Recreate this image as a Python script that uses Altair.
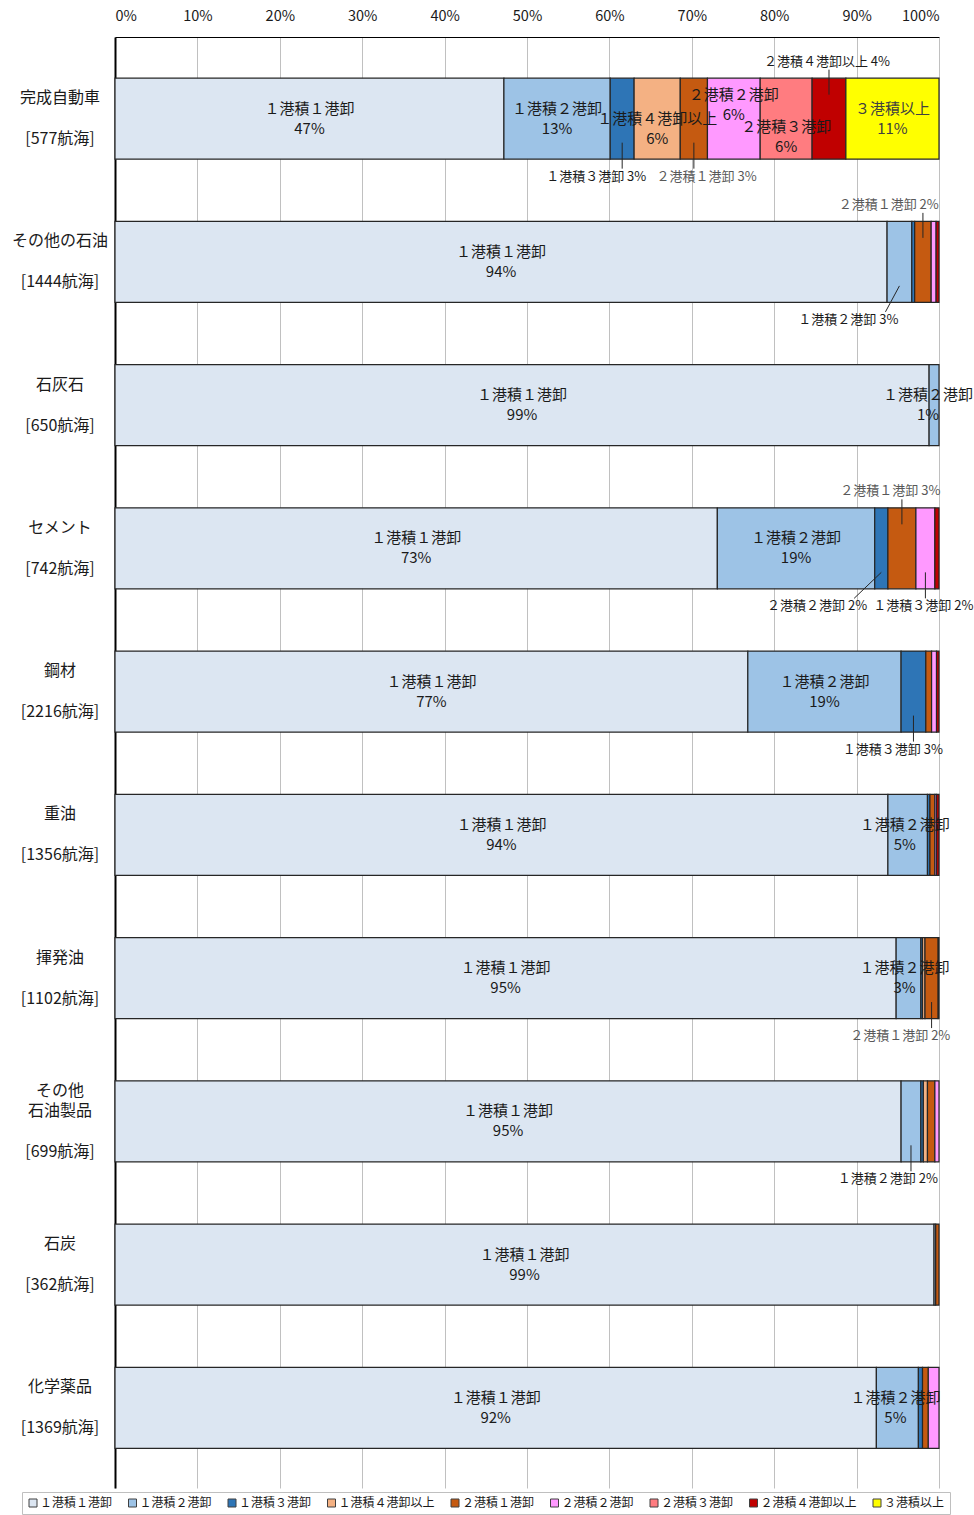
import altair as alt
import pandas as pd

# Cargo categories (top to bottom) and number of voyages surveyed
categories = ["完成自動車", "その他の石油", "石灰石", "セメント", "鋼材",
              "重油", "揮発油", "その他石油製品", "石炭", "化学薬品"]
category_lines = [["完成自動車"], ["その他の石油"], ["石灰石"], ["セメント"], ["鋼材"],
                  ["重油"], ["揮発油"], ["その他", "石油製品"], ["石炭"], ["化学薬品"]]
voyages = [577, 1444, 650, 742, 2216, 1356, 1102, 699, 362, 1369]

# Loading / unloading port patterns and their colours
series = ["１港積１港卸", "１港積２港卸", "１港積３港卸", "１港積４港卸以上",
          "２港積１港卸", "２港積２港卸", "２港積３港卸", "２港積４港卸以上", "３港積以上"]
colors = ["#DCE6F2", "#9DC3E6", "#2E75B6", "#F4B183",
          "#C55A11", "#FF99FF", "#FF7C80", "#C00000", "#FFFF00"]

# Share of voyages (%) per pattern, in category order
s_1_1 = [47.2, 93.7, 98.8, 73.1, 76.8, 93.8, 94.8, 95.4, 99.4, 92.4]
s_1_2 = [12.9, 3.0, 1.2, 19.1, 18.6, 4.8, 3.0, 2.4, 0.2, 5.1]
s_1_3 = [2.9, 0.35, 0, 1.6, 3.0, 0.3, 0.2, 0.3, 0, 0.5]
s_1_4 = [5.6, 0, 0, 0, 0, 0, 0.3, 0.5, 0, 0]
s_2_1 = [3.3, 2.0, 0, 3.4, 0.7, 0.6, 1.6, 0.9, 0.4, 0.7]
s_2_2 = [6.4, 0.6, 0, 2.3, 0.6, 0.2, 0, 0.5, 0, 1.3]
s_2_3 = [6.3, 0, 0, 0, 0, 0, 0, 0, 0, 0]
s_2_4 = [4.1, 0.35, 0, 0.5, 0.3, 0.3, 0.1, 0, 0, 0]
s_3 = [11.3, 0, 0, 0, 0, 0, 0, 0, 0, 0]
series_values = [s_1_1, s_1_2, s_1_3, s_1_4, s_2_1, s_2_2, s_2_3, s_2_4, s_3]

# Labels drawn inside segments: (category, pattern, x shift px, y shift px)
inside_labels = [
    ("完成自動車", "１港積１港卸", 0, 0), ("完成自動車", "１港積２港卸", 0, 0),
    ("完成自動車", "１港積４港卸以上", 0, 10), ("完成自動車", "２港積２港卸", 0, -14),
    ("完成自動車", "２港積３港卸", 0, 18), ("完成自動車", "３港積以上", 0, 0),
] + [(c, "１港積１港卸", 0, 0) for c in categories[1:]] + [
    ("石灰石", "１港積２港卸", -6, 0), ("セメント", "１港積２港卸", 0, 0),
    ("鋼材", "１港積２港卸", 0, 0), ("重油", "１港積２港卸", -3, 0),
    ("揮発油", "１港積２港卸", -4, 0), ("化学薬品", "１港積２港卸", -2, 0),
]

# Callout labels: (category, labelled pattern, segment the leader points to, side, label centre %)
callouts = [
    ("完成自動車", "１港積３港卸", "１港積３港卸", "below", 58.4),
    ("完成自動車", "２港積１港卸", "２港積１港卸", "below", 71.8),
    ("完成自動車", "２港積４港卸以上", "２港積４港卸以上", "above", 86.4),
    ("その他の石油", "２港積１港卸", "２港積１港卸", "above", 93.9),
    ("その他の石油", "１港積２港卸", "１港積２港卸", "below", 89.0),
    ("セメント", "２港積１港卸", "２港積１港卸", "above", 94.1),
    ("セメント", "２港積２港卸", "１港積３港卸", "below", 85.2),
    ("セメント", "１港積３港卸", "２港積２港卸", "below", 98.1),
    ("鋼材", "１港積３港卸", "１港積３港卸", "below", 94.4),
    ("揮発油", "２港積１港卸", "２港積１港卸", "below", 95.3),
    ("その他石油製品", "１港積２港卸", "１港積２港卸", "below", 93.8),
]

WIDTH, HEIGHT = 824, 1451
Y_LO, Y_HI = -0.57, 9.56
ROW_PX = HEIGHT / (Y_HI - Y_LO)
X_PX = WIDTH / 100
BAR_HALF = 40.5 / ROW_PX
FONT = "Noto Sans CJK JP"
IN_LH = 20      # line height of in-bar labels
CAT_LH = 20.5   # line height of category labels


def pct(v):
    return int(v + 0.5)


# Stacked segments
seg_rows = []
seg = {}
for i, cat in enumerate(categories):
    start = 0.0
    for s, vals in zip(series, series_values):
        v = vals[i]
        end = start + v
        seg[(cat, s)] = (start, end, v, i)
        if v > 0:
            seg_rows.append({"category": cat, "series": s, "start": start, "end": end,
                             "value": v, "y0": i - BAR_HALF, "y1": i + BAR_HALF})
        start = end
seg_df = pd.DataFrame(seg_rows)

# Multi-line text is anchored at its first line, so lift it by half the block height
inside_df = pd.DataFrame([
    {"x": (seg[(c, s)][0] + seg[(c, s)][1]) / 2 + dx / X_PX,
     "y": seg[(c, s)][3] + (dy - IN_LH / 2) / ROW_PX,
     "series": s,
     "label": f"{s}\n{pct(seg[(c, s)][2])}%"}
    for c, s, dx, dy in inside_labels
])

call_rows, lead_rows = [], []
for c, s, target, side, lx in callouts:
    sign = -1 if side == "above" else 1
    i = seg[(c, s)][3]
    v = seg[(c, s)][2]
    off = 57 if side == "above" else 58
    call_rows.append({"x": lx, "y": i + sign * off / ROW_PX, "series": s,
                      "label": f"{s} {pct(v)}%"})
    tmid = (seg[(c, target)][0] + seg[(c, target)][1]) / 2
    tx = min(max(tmid, lx - 4.5), lx + 4.5)
    lead_rows.append({"x": tmid, "x2": tx, "y": i + sign * 24 / ROW_PX,
                      "y2": i + sign * (off - 8) / ROW_PX})
call_df = pd.DataFrame(call_rows)
lead_df = pd.DataFrame(lead_rows)

# Category name block, an empty line, then the voyage count, centred on the bar
name_rows, voy_rows = [], []
for i, (lines, n) in enumerate(zip(category_lines, voyages)):
    half = (len(lines) + 1) * CAT_LH / 2
    name_rows.append({"y": i - half / ROW_PX, "label": "\n".join(lines)})
    voy_rows.append({"y": i + half / ROW_PX, "label": f"[{n}航海]"})
name_df = pd.DataFrame(name_rows)
voy_df = pd.DataFrame(voy_rows)

x_scale = alt.Scale(domain=[0, 100], nice=False, zero=True)
y_scale = alt.Scale(domain=[Y_LO, Y_HI], nice=False, zero=False, reverse=True)
x_axis = alt.Axis(orient="top", values=list(range(0, 101, 10)),
                  labelExpr="datum.value + '%'", ticks=False, grid=True,
                  gridColor="#c0c0c0", gridWidth=1, domainColor="#000000",
                  domainWidth=1, labelFontSize=14.5, labelPadding=14,
                  labelColor="#1a1a1a", title=None)
y_axis = alt.Axis(labels=False, ticks=False, grid=False, domainColor="#000000",
                  domainWidth=2, title=None)


def xy(xf, yf):
    return dict(x=alt.X(xf, scale=x_scale, axis=x_axis, title=None),
                y=alt.Y(yf, scale=y_scale, axis=y_axis, title=None))


bars = alt.Chart(seg_df).mark_rect(stroke="#262626", strokeWidth=1.2).encode(
    **xy("start:Q", "y0:Q"),
    x2="end:Q",
    y2="y1:Q",
    color=alt.Color("series:N", scale=alt.Scale(domain=series, range=colors),
                    legend=alt.Legend(title=None, orient="none", legendX=-93, legendY=1455,
                                      direction="horizontal", columns=9, columnPadding=13.5,
                                      symbolType="square", symbolSize=64,
                                      symbolStrokeColor="#404040", symbolStrokeWidth=1,
                                      labelFontSize=12, labelOffset=1, labelLimit=0,
                                      labelColor="#1a1a1a", strokeColor="#bfbfbf",
                                      padding=5)),
)

inside_text = alt.Chart(inside_df).mark_text(
    fontSize=15, lineBreak="\n", lineHeight=IN_LH, align="center", baseline="middle"
).encode(
    **xy("x:Q", "y:Q"),
    text="label:N",
    color=alt.condition("datum.series === '３港積以上'", alt.value("#404040"),
                        alt.value("#1a1a1a")),
)

leaders = alt.Chart(lead_df).mark_rule(color="#262626", strokeWidth=1).encode(
    **xy("x:Q", "y:Q"),
    x2="x2:Q",
    y2="y2:Q",
)

call_text = alt.Chart(call_df).mark_text(
    fontSize=13, align="center", baseline="middle"
).encode(
    **xy("x:Q", "y:Q"),
    text="label:N",
    color=alt.condition("datum.series === '２港積１港卸'", alt.value("#595959"),
                        alt.value("#1a1a1a")),
)


def category_layer(df):
    return alt.Chart(df).mark_text(
        fontSize=16, lineBreak="\n", lineHeight=CAT_LH, align="center",
        baseline="middle", color="#1a1a1a"
    ).encode(
        x=alt.value(-55),
        y=alt.Y("y:Q", scale=y_scale, axis=y_axis, title=None),
        text="label:N",
    )


chart = alt.layer(bars, inside_text, leaders, call_text,
                  category_layer(name_df), category_layer(voy_df)).properties(
    width=WIDTH, height=HEIGHT,
    padding={"left": 115, "top": 37, "right": 35, "bottom": 27},
    autosize=alt.AutoSizeParams(type="none"),
).configure(font=FONT).configure_view(stroke=None)

chart.save("out.html", embed_options={"renderer": "svg", "actions": False})
